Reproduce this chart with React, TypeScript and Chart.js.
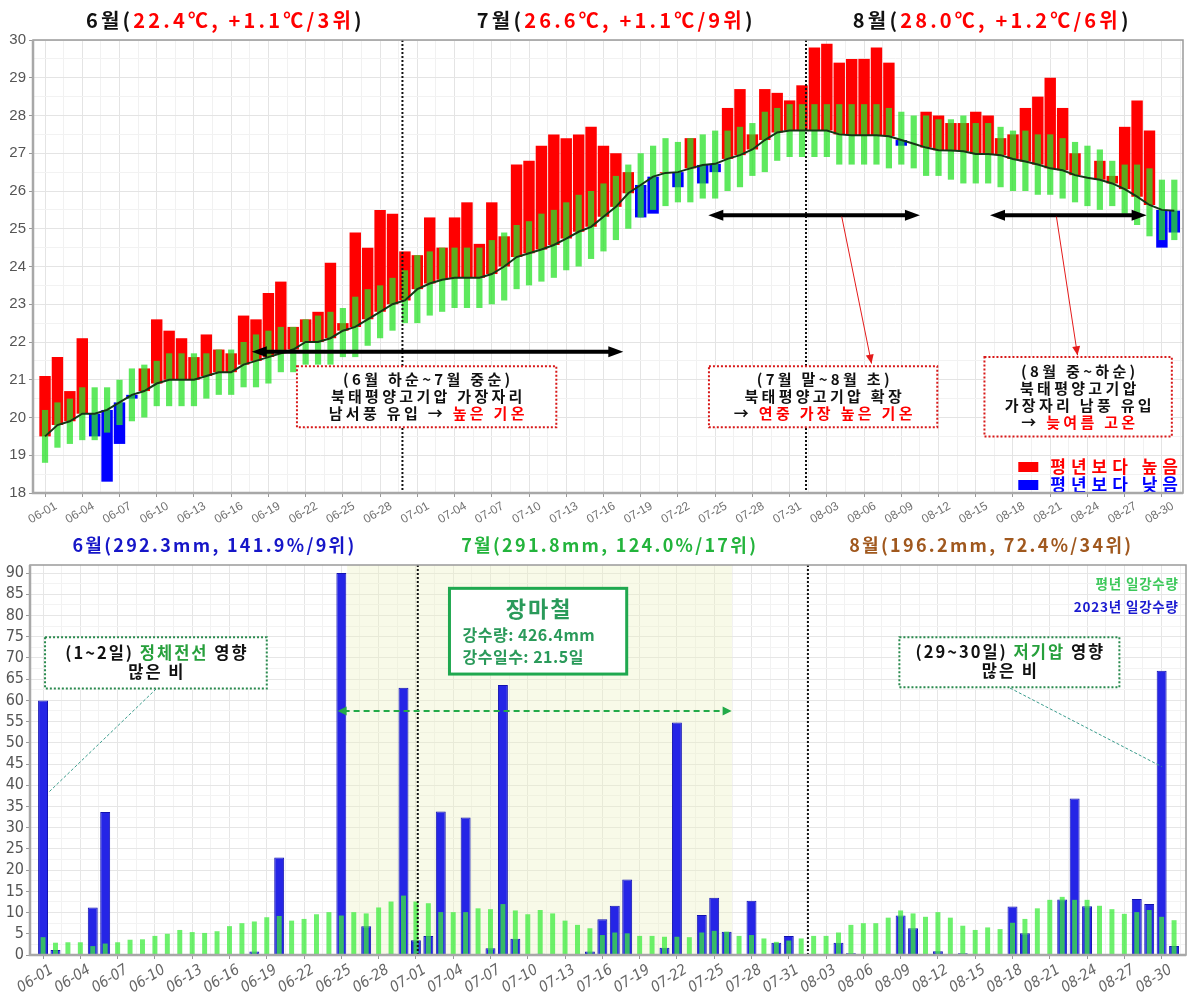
import React, { useEffect, useRef } from 'react';
import { Chart, registerables } from 'chart.js';
Chart.register(...registerables);

const KR = '"Noto Sans CJK KR", "Noto Sans", sans-serif';
const NARROW = '"Liberation Sans Narrow", "DejaVu Sans Condensed", "Liberation Sans", sans-serif';
const SANS = '"Liberation Sans", Arial, sans-serif';

// ---------------- categories ----------------
const dates = [
  '06-01','06-02','06-03','06-04','06-05','06-06','06-07','06-08','06-09','06-10',
  '06-11','06-12','06-13','06-14','06-15','06-16','06-17','06-18','06-19','06-20',
  '06-21','06-22','06-23','06-24','06-25','06-26','06-27','06-28','06-29','06-30',
  '07-01','07-02','07-03','07-04','07-05','07-06','07-07','07-08','07-09','07-10',
  '07-11','07-12','07-13','07-14','07-15','07-16','07-17','07-18','07-19','07-20',
  '07-21','07-22','07-23','07-24','07-25','07-26','07-27','07-28','07-29','07-30','07-31',
  '08-01','08-02','08-03','08-04','08-05','08-06','08-07','08-08','08-09','08-10',
  '08-11','08-12','08-13','08-14','08-15','08-16','08-17','08-18','08-19','08-20',
  '08-21','08-22','08-23','08-24','08-25','08-26','08-27','08-28','08-29','08-30','08-31',
];
const labelEvery = 3;

// ---------------- temperature (°C) ----------------
const tempNormal = [
  19.5,19.8,19.9,20.1,20.1,20.2,20.4,20.6,20.7,20.9, 21.0,21.0,21.0,21.1,21.2,21.2,21.4,21.5,21.6,21.7,
  21.8,22.0,22.0,22.1,22.3,22.4,22.6,22.8,23.0,23.1,
  23.4,23.55,23.65,23.7,23.7,23.7,23.8,24.0,24.25,24.35, 24.45,24.57,24.74,24.92,25.05,25.32,25.58,25.94,26.16,26.38,
  26.48,26.5,26.6,26.69,26.72,26.85,26.95,27.1,27.35,27.55,27.6,
  27.6,27.6,27.6,27.5,27.48,27.48,27.48,27.45,27.35,27.25, 27.15,27.08,27.07,27.05,26.98,26.98,26.95,26.85,26.78,26.7,
  26.6,26.55,26.42,26.35,26.3,26.2,26.05,25.85,25.63,25.5,25.48,
];
const tempActual = [
  21.1,21.6,20.7,22.1,19.5,18.3,19.3,20.5,21.3,22.6, 22.3,22.1,21.6,22.2,21.8,21.7,22.7,22.6,23.3,23.6,
  22.4,22.6,22.8,24.1,22.5,24.9,24.5,25.5,25.4,24.4,
  24.3,25.3,24.5,25.3,25.7,24.6,25.7,24.8,26.7,26.8, 27.2,27.5,27.4,27.5,27.7,27.2,27.0,26.5,25.3,25.4,
  26.5,26.1,27.4,26.2,26.5,28.2,28.7,27.5,28.7,28.6,28.4,
  28.8,29.8,29.9,29.4,29.5,29.5,29.8,29.4,27.2,27.25, 28.1,28.0,27.8,27.8,28.1,28.0,27.4,27.5,28.2,28.5,
  29.0,28.2,27.0,26.35,26.8,26.4,27.7,28.4,27.6,24.5,24.9,
];
const tempNormLow = [
  18.8,19.2,19.3,19.4,19.4,19.6,19.8,19.9,20.0,20.3, 20.3,20.3,20.3,20.5,20.6,20.6,20.8,20.8,20.9,21.2,
  21.2,21.4,21.4,21.4,21.6,21.6,21.9,22.1,22.3,22.5,
  22.5,22.7,22.8,22.9,22.9,22.9,23.0,23.1,23.4,23.5, 23.6,23.7,23.9,24.0,24.2,24.4,24.7,25.0,25.3,25.5,
  25.6,25.7,25.7,25.8,25.8,26.0,26.1,26.4,26.5,26.8,26.9,
  26.9,26.9,26.9,26.7,26.7,26.7,26.7,26.6,26.7,26.6, 26.4,26.4,26.3,26.2,26.2,26.2,26.1,26.0,26.0,25.9,
  25.9,25.8,25.7,25.6,25.5,25.6,25.4,25.1,24.8,24.7,24.7,
];
const tempNormHigh = [
  20.2,20.4,20.5,20.8,20.8,20.8,21.0,21.3,21.4,21.5, 21.7,21.7,21.7,21.7,21.8,21.8,22.0,22.2,22.3,22.4,
  22.4,22.6,22.7,22.8,22.9,23.2,23.4,23.5,23.7,23.9,
  24.3,24.4,24.5,24.5,24.5,24.5,24.7,24.9,25.1,25.2, 25.4,25.5,25.7,25.9,26.0,26.2,26.4,26.7,27.0,27.2,
  27.4,27.3,27.4,27.5,27.6,27.6,27.7,27.8,28.1,28.2,28.3,
  28.3,28.3,28.3,28.3,28.3,28.3,28.3,28.2,28.1,28.0, 28.0,27.9,27.9,28.0,27.8,27.8,27.7,27.6,27.6,27.5,
  27.5,27.4,27.3,27.2,27.1,26.8,26.7,26.7,26.6,26.3,26.3,
];

// ---------------- precipitation (mm) ----------------
const rainNormal = [
  4.2,2.9,3.0,3.0,2.1,2.7,3.0,3.6,3.7,4.5, 5.0,5.9,5.4,5.2,5.6,6.8,7.5,7.9,8.9,9.2,
  8.1,8.5,9.6,10.1,9.3,10.1,9.8,11.2,12.6,14.0,
  12.6,12.2,10.1,10.1,10.1,11.0,10.8,12.0,10.5,9.6, 10.6,9.8,8.1,7.1,6.3,4.7,5.3,5.1,4.5,4.5,
  4.3,4.3,4.2,5.3,5.7,5.5,4.5,4.7,3.9,3.1,3.4,
  3.9,4.5,4.5,5.3,7.1,7.5,7.5,8.8,10.5,9.8, 9.0,10.1,8.8,6.9,5.9,6.5,6.1,7.6,8.5,11.0,
  13.0,13.7,13.0,13.0,11.6,10.8,9.7,10.1,10.6,9.0,8.2,
];
const rain2023 = [
  60.0,1.2,0,0,11.2,33.7,0,0,0,0, 0,0,0,0,0,0,0,0.8,0,23.0,
  0,0,0,0,90.0,0,6.8,0,0.3,63.0,
  3.5,4.5,33.8,0,32.4,0,1.6,63.6,3.8,0, 0.3,0,0,0,0.8,8.4,11.6,17.8,0,0,
  1.7,54.8,0,9.4,13.5,5.5,0,12.8,0,2.9,4.5,
  0,0,0,2.9,0.4,0,0,0,9.3,6.3, 0,0.9,0,0.4,0,0.2,0,11.4,5.1,0,
  0,13.1,36.9,11.5,0,0,0,13.2,12.0,67.0,2.1,
];

// ---------------- titles / annotations ----------------
type Seg = { t: string; c: string };
const RED = '#ff0000';
const BLACK = '#111111';

const topTitles: { at: number; segs: Seg[] }[] = [
  { at: 14.4, segs: [{ t: '6월(', c: BLACK }, { t: '22.4℃, +1.1℃/3위', c: RED }, { t: ')', c: BLACK }] },
  { at: 45.9, segs: [{ t: '7월(', c: BLACK }, { t: '26.6℃, +1.1℃/9위', c: RED }, { t: ')', c: BLACK }] },
  { at: 76.2, segs: [{ t: '8월(', c: BLACK }, { t: '28.0℃, +1.2℃/6위', c: RED }, { t: ')', c: BLACK }] },
];
const rainTitles: { at: number; segs: Seg[] }[] = [
  { at: 13.7, segs: [{ t: '6월(292.3mm, 141.9%/9위)', c: '#1616c8' }] },
  { at: 45.5, segs: [{ t: '7월(291.8mm, 124.0%/17위)', c: '#23b43c' }] },
  { at: 76.2, segs: [{ t: '8월(196.2mm, 72.4%/34위)', c: '#a0581e' }] },
];

const topMonthBreaks = [28.8, 61.32];
const topArrows = [
  { x1: 16.66, x2: 46.6, y: 21.74 },
  { x1: 53.45, x2: 70.5, y: 25.36 },
  { x1: 76.15, x2: 88.77, y: 25.36 },
];
const topPointers = [
  { x1: 64.2, y1: 25.32, x2: 66.6, y2: 21.43 },
  { x1: 81.5, y1: 25.32, x2: 83.2, y2: 21.65 },
];
const topBoxes: { x1: number; x2: number; y1: number; y2: number; lines: Seg[][] }[] = [
  {
    x1: 20.3, x2: 41.2, y1: 21.36, y2: 19.74,
    lines: [
      [{ t: '(6월 하순~7월 중순)', c: BLACK }],
      [{ t: '북태평양고기압 가장자리', c: BLACK }],
      [{ t: '남서풍 유입 → ', c: BLACK }, { t: '높은 기온', c: RED }],
    ],
  },
  {
    x1: 53.5, x2: 71.9, y1: 21.36, y2: 19.74,
    lines: [
      [{ t: '(7월 말~8월 초)', c: BLACK }],
      [{ t: '북태평양고기압 확장', c: BLACK }],
      [{ t: '→ ', c: BLACK }, { t: '연중 가장 높은 기온', c: RED }],
    ],
  },
  {
    x1: 75.7, x2: 90.8, y1: 21.6, y2: 19.5,
    lines: [
      [{ t: '(8월 중~하순)', c: BLACK }],
      [{ t: '북태평양고기압', c: BLACK }],
      [{ t: '가장자리 남풍 유입', c: BLACK }],
      [{ t: '→ ', c: BLACK }, { t: '늦여름 고온', c: RED }],
    ],
  },
];
const topLegend = [
  { label: '평년보다 높음', color: '#ff0000' },
  { label: '평년보다 낮음', color: '#0000ff' },
];

const GREEN_TXT = '#27a03c';
const rainMonthBreaks = [30.15, 61.54];
const rainMonsoon = { x1: 24.46, x2: 55.43, arrowY: 57.5, arrowX1: 23.7, arrowX2: 55.4 };
const rainBoxes: { x1: number; x2: number; y1: number; y2: number; lines: Seg[][] }[] = [
  {
    x1: 0.16, x2: 18.0, y1: 74.9, y2: 62.8,
    lines: [
      [{ t: '(1~2일) ', c: BLACK }, { t: '정체전선', c: GREEN_TXT }, { t: ' 영향', c: BLACK }],
      [{ t: '많은 비', c: BLACK }],
    ],
  },
  {
    x1: 68.9, x2: 86.6, y1: 74.9, y2: 63.1,
    lines: [
      [{ t: '(29~30일) ', c: BLACK }, { t: '저기압', c: GREEN_TXT }, { t: ' 영향', c: BLACK }],
      [{ t: '많은 비', c: BLACK }],
    ],
  },
];
const rainPointers = [
  { x1: 9.1, y1: 62.7, x2: 0.4, y2: 38.2 },
  { x1: 77.8, y1: 62.9, x2: 90.0, y2: 44.4 },
];
const monsoonBox = {
  x1: 32.7, x2: 46.96, y1: 86.4, y2: 66.2,
  title: '장마철',
  lines: ['강수량: 426.4mm', '강수일수: 21.5일'],
};
const rainLegend = [
  { label: '평년 일강수량', color: '#3cc85a' },
  { label: '2023년 일강수량', color: '#1a1ad0' },
];

// ---------------- drawing helpers ----------------
function richText(
  ctx: CanvasRenderingContext2D, segs: Seg[], x: number, y: number,
  font: string, spacing: number, align: 'left' | 'center' | 'right' = 'center'
) {
  ctx.save();
  ctx.font = font;
  (ctx as any).letterSpacing = `${spacing}px`;
  ctx.textBaseline = 'middle';
  ctx.textAlign = 'left';
  const ws = segs.map((s) => ctx.measureText(s.t).width);
  const total = ws.reduce((a, b) => a + b, 0) - spacing;
  let cx = align === 'center' ? x - total / 2 : align === 'right' ? x - total : x;
  segs.forEach((s, i) => {
    ctx.fillStyle = s.c;
    ctx.fillText(s.t, cx, y);
    cx += ws[i];
  });
  ctx.restore();
}

function textWidth(ctx: CanvasRenderingContext2D, t: string, font: string, spacing: number) {
  ctx.save();
  ctx.font = font;
  (ctx as any).letterSpacing = `${spacing}px`;
  const w = ctx.measureText(t).width - spacing;
  ctx.restore();
  return w;
}

function arrowHead(ctx: CanvasRenderingContext2D, fx: number, fy: number, tx: number, ty: number, len: number, half: number) {
  const a = Math.atan2(ty - fy, tx - fx);
  const bx = tx - len * Math.cos(a);
  const by = ty - len * Math.sin(a);
  ctx.beginPath();
  ctx.moveTo(tx, ty);
  ctx.lineTo(bx + half * Math.sin(a), by - half * Math.cos(a));
  ctx.lineTo(bx - half * Math.sin(a), by + half * Math.cos(a));
  ctx.closePath();
  ctx.fill();
}

function drawFrame(ctx: CanvasRenderingContext2D, ca: any) {
  ctx.save();
  ctx.strokeStyle = '#9a9a9a';
  ctx.lineWidth = 1.5;
  ctx.strokeRect(ca.left, ca.top, ca.right - ca.left, ca.bottom - ca.top);
  ctx.lineWidth = 2.5;
  ctx.strokeStyle = '#a8a8a8';
  ctx.beginPath();
  ctx.moveTo(ca.left, ca.top);
  ctx.lineTo(ca.left, ca.bottom);
  ctx.lineTo(ca.right, ca.bottom);
  ctx.stroke();
  ctx.restore();
}

// ---------------- plugins ----------------
const topPlugin = {
  id: 'topDecor',
  afterDatasetsDraw(chart: any) {
    const { ctx, chartArea: ca, scales } = chart;
    const X = (v: number) => scales.x.getPixelForValue(v);
    const Y = (v: number) => scales.y.getPixelForValue(v);
    ctx.save();
    ctx.strokeStyle = '#111';
    ctx.lineWidth = 2;
    ctx.setLineDash([2, 2]);
    topMonthBreaks.forEach((b) => {
      ctx.beginPath();
      ctx.moveTo(X(b), ca.top);
      ctx.lineTo(X(b), ca.bottom);
      ctx.stroke();
    });
    ctx.setLineDash([]);
    ctx.strokeStyle = '#000';
    ctx.fillStyle = '#000';
    ctx.lineWidth = 4;
    topArrows.forEach((a) => {
      const x1 = X(a.x1), x2 = X(a.x2), y = Y(a.y);
      ctx.beginPath();
      ctx.moveTo(x1 + 8, y);
      ctx.lineTo(x2 - 8, y);
      ctx.stroke();
      arrowHead(ctx, x2, y, x1, y, 15, 5.5);
      arrowHead(ctx, x1, y, x2, y, 15, 5.5);
    });
    ctx.strokeStyle = '#e41a1a';
    ctx.fillStyle = '#e41a1a';
    ctx.lineWidth = 1;
    topPointers.forEach((p) => {
      const x1 = X(p.x1), y1 = Y(p.y1), x2 = X(p.x2), y2 = Y(p.y2);
      ctx.beginPath();
      ctx.moveTo(x1, y1);
      ctx.lineTo(x2, y2);
      ctx.stroke();
      arrowHead(ctx, x1, y1, x2, y2, 9, 4);
    });
    topBoxes.forEach((b) => {
      const l = X(b.x1), r = X(b.x2), t = Y(b.y1), bt = Y(b.y2);
      ctx.fillStyle = '#ffffff';
      ctx.fillRect(l, t, r - l, bt - t);
      ctx.strokeStyle = '#d81818';
      ctx.lineWidth = 2;
      ctx.setLineDash([2, 2]);
      ctx.strokeRect(l, t, r - l, bt - t);
      ctx.setLineDash([]);
      const cx = (l + r) / 2, cy = (t + bt) / 2;
      const lh = 17;
      b.lines.forEach((ln, i) => {
        const y = cy + (i - (b.lines.length - 1) / 2) * lh;
        richText(ctx, ln, cx, y, `bold 15px ${KR}`, 3.3);
      });
    });
    const lf = `bold 17px ${KR}`;
    topLegend.forEach((it, i) => {
      const y = ca.bottom - 26 + i * 18;
      const tx = ca.right - 5;
      const w = textWidth(ctx, it.label, lf, 5);
      ctx.fillStyle = it.color;
      ctx.fillRect(tx - w - 32, y - 5, 20, 10);
      richText(ctx, [{ t: it.label, c: it.color }], tx, y, lf, 5, 'right');
    });
    ctx.restore();
  },
  afterDraw(chart: any) {
    const { ctx, chartArea: ca, scales } = chart;
    drawFrame(ctx, ca);
    topTitles.forEach((tt) => {
      richText(ctx, tt.segs, scales.x.getPixelForValue(tt.at), 20, `bold 20px ${KR}`, 3.2);
    });
  },
};

const rainPlugin = {
  id: 'rainDecor',
  beforeDatasetsDraw(chart: any) {
    const { ctx, chartArea: ca, scales } = chart;
    const X = (v: number) => scales.x.getPixelForValue(v);
    ctx.save();
    ctx.fillStyle = 'rgba(236, 240, 190, 0.36)';
    ctx.fillRect(X(rainMonsoon.x1), ca.top, X(rainMonsoon.x2) - X(rainMonsoon.x1), ca.bottom - ca.top);
    ctx.restore();
  },
  afterDatasetsDraw(chart: any) {
    const { ctx, chartArea: ca, scales } = chart;
    const X = (v: number) => scales.x.getPixelForValue(v);
    const Y = (v: number) => scales.y.getPixelForValue(v);
    ctx.save();
    ctx.strokeStyle = '#111';
    ctx.lineWidth = 2;
    ctx.setLineDash([2, 2]);
    rainMonthBreaks.forEach((b) => {
      ctx.beginPath();
      ctx.moveTo(X(b), ca.top);
      ctx.lineTo(X(b), ca.bottom);
      ctx.stroke();
    });
    const ax1 = X(rainMonsoon.arrowX1), ax2 = X(rainMonsoon.arrowX2), ay = Y(rainMonsoon.arrowY);
    ctx.strokeStyle = '#22aa48';
    ctx.fillStyle = '#22aa48';
    ctx.lineWidth = 2;
    ctx.setLineDash([6, 4]);
    ctx.beginPath();
    ctx.moveTo(ax1 + 6, ay);
    ctx.lineTo(ax2 - 6, ay);
    ctx.stroke();
    ctx.setLineDash([]);
    arrowHead(ctx, ax2, ay, ax1, ay, 9, 4.5);
    arrowHead(ctx, ax1, ay, ax2, ay, 9, 4.5);
    ctx.strokeStyle = '#3a9c8c';
    ctx.lineWidth = 1;
    ctx.setLineDash([3, 2]);
    rainPointers.forEach((p) => {
      ctx.beginPath();
      ctx.moveTo(X(p.x1), Y(p.y1));
      ctx.lineTo(X(p.x2), Y(p.y2));
      ctx.stroke();
    });
    ctx.setLineDash([]);
    rainBoxes.forEach((b) => {
      const l = X(b.x1), r = X(b.x2), t = Y(b.y1), bt = Y(b.y2);
      ctx.fillStyle = '#ffffff';
      ctx.fillRect(l, t, r - l, bt - t);
      ctx.strokeStyle = '#2a8a4e';
      ctx.lineWidth = 2;
      ctx.setLineDash([2, 2]);
      ctx.strokeRect(l, t, r - l, bt - t);
      ctx.setLineDash([]);
      const cx = (l + r) / 2, cy = (t + bt) / 2;
      b.lines.forEach((ln, i) => {
        const y = cy + (i - (b.lines.length - 1) / 2) * 19 - 1;
        richText(ctx, ln, cx, y, `bold 16.5px ${KR}`, 2);
      });
    });
    {
      const b = monsoonBox;
      const l = X(b.x1), r = X(b.x2), t = Y(b.y1), bt = Y(b.y2);
      ctx.fillStyle = '#ffffff';
      ctx.fillRect(l, t, r - l, bt - t);
      ctx.strokeStyle = '#1fa84f';
      ctx.lineWidth = 3;
      ctx.strokeRect(l, t, r - l, bt - t);
      richText(ctx, [{ t: b.title, c: '#2a9a5a' }], (l + r) / 2, t + 20, `bold 22px ${KR}`, 2);
      b.lines.forEach((ln, i) => {
        richText(ctx, [{ t: ln, c: '#2a9a5a' }], l + 13, t + 47 + i * 22, `bold 16px ${KR}`, 0.5, 'left');
      });
    }
    rainLegend.forEach((it, i) => {
      richText(ctx, [{ t: it.label, c: it.color }], ca.right - 8, ca.top + 19 + i * 23, `bold 13.5px ${KR}`, 0.8, 'right');
    });
    ctx.restore();
  },
  afterDraw(chart: any) {
    const { ctx, chartArea: ca, scales } = chart;
    drawFrame(ctx, ca);
    rainTitles.forEach((tt) => {
      richText(ctx, tt.segs, scales.x.getPixelForValue(tt.at), 15, `bold 18px ${KR}`, 2.3);
    });
  },
};

// ---------------- derived datasets ----------------
const idx = dates.map((_, i) => i);
const xMajor = idx.filter((i) => i % labelEvery === 0 && i <= 90);
const xTickVals = xMajor.flatMap((v) => [v, v + labelEvery / 2]);
const isMajorX = (v: number) => v % labelEvery === 0;

function fixX(height: number) {
  return (s: any) => {
    s.height = height;
    s.paddingLeft = 0;
    s.paddingRight = 0;
  };
}

function makeTopChart(canvas: HTMLCanvasElement) {
  const warm = idx.filter((i) => tempActual[i] >= tempNormal[i]).map((i) => ({ x: i, y: [tempNormal[i], tempActual[i]] }));
  const cool = idx.filter((i) => tempActual[i] < tempNormal[i]).map((i) => ({ x: i, y: [tempActual[i], tempNormal[i]] }));
  const range = idx.map((i) => ({ x: i, y: [tempNormLow[i], tempNormHigh[i]] }));
  const mean = idx.map((i) => ({ x: i, y: tempNormal[i] }));
  const yTicks: number[] = [];
  for (let v = 18; v <= 30; v += 0.5) yTicks.push(v);
  return new Chart(canvas, {
    type: 'bar',
    data: {
      datasets: [
        { type: 'line', data: mean, borderColor: '#163616', borderWidth: 2, pointRadius: 0, order: 0 } as any,
        { data: range, backgroundColor: 'rgba(40, 226, 40, 0.75)', grouped: false, barPercentage: 0.5, categoryPercentage: 1, order: 1 } as any,
        { data: warm, backgroundColor: '#ff0000', grouped: false, barPercentage: 0.92, categoryPercentage: 1, order: 2 } as any,
        { data: cool, backgroundColor: '#0000ff', grouped: false, barPercentage: 0.92, categoryPercentage: 1, order: 2 } as any,
      ],
    },
    options: {
      responsive: false,
      animation: false,
      events: [],
      layout: { autoPadding: false, padding: { left: 0, right: 5, top: 40, bottom: 0 } },
      plugins: { legend: { display: false }, tooltip: { enabled: false } },
      scales: {
        x: {
          type: 'linear',
          offset: false,
          min: -0.97,
          max: 91.7,
          afterBuildTicks: (s: any) => { s.ticks = xTickVals.map((v) => ({ value: v })); },
          afterFit: fixX(37),
          border: { display: false },
          grid: {
            offset: false,
            color: (c: any) => (c.tick && isMajorX(c.tick.value) ? '#e4e4e4' : '#f1f1f1'),
            tickColor: (c: any) => (c.tick && isMajorX(c.tick.value) ? '#999' : 'rgba(0,0,0,0)'),
            tickLength: 4,
          },
          ticks: {
            autoSkip: false,
            minRotation: 30,
            maxRotation: 30,
            padding: 2,
            labelOffset: 11,
            color: '#707070',
            font: { family: SANS, size: 12 },
            callback: (v: any) => (isMajorX(v) ? dates[v] : ''),
          },
        },
        y: {
          min: 18,
          max: 30,
          afterBuildTicks: (s: any) => { s.ticks = yTicks.map((v) => ({ value: v })); },
          afterFit: (s: any) => { s.width = 33; s.paddingTop = 0; s.paddingBottom = 0; },
          border: { display: false },
          grid: {
            color: (c: any) => (c.tick && Number.isInteger(c.tick.value) ? '#e4e4e4' : '#f2f2f2'),
            tickColor: (c: any) => (c.tick && Number.isInteger(c.tick.value) ? '#999' : 'rgba(0,0,0,0)'),
            tickLength: 4,
          },
          ticks: {
            autoSkip: false,
            padding: 3,
            color: '#555',
            font: { family: SANS, size: 15 },
            callback: (v: any) => (Number.isInteger(v) ? String(v) : ''),
          },
        },
      },
    },
    plugins: [topPlugin],
  } as any);
}

function makeRainChart(canvas: HTMLCanvasElement) {
  const normal = idx.map((i) => ({ x: i, y: rainNormal[i] }));
  const obs = idx.filter((i) => rain2023[i] > 0).map((i) => ({ x: i, y: rain2023[i] }));
  const yTicks: number[] = [];
  for (let v = 0; v <= 90; v += 2.5) yTicks.push(v);
  return new Chart(canvas, {
    type: 'bar',
    data: {
      datasets: [
        { data: normal, backgroundColor: 'rgba(60, 236, 60, 0.75)', grouped: false, barPercentage: 0.4, categoryPercentage: 1, order: 1 } as any,
        { data: obs, backgroundColor: '#2525e6', borderColor: '#1212b0', borderWidth: 1, grouped: false, barPercentage: 0.8, categoryPercentage: 1, order: 2 } as any,
      ],
    },
    options: {
      responsive: false,
      animation: false,
      events: [],
      layout: { autoPadding: false, padding: { left: 0, right: 2, top: 35, bottom: 0 } },
      plugins: { legend: { display: false }, tooltip: { enabled: false } },
      scales: {
        x: {
          type: 'linear',
          offset: false,
          min: -1.05,
          max: 91.96,
          afterBuildTicks: (s: any) => { s.ticks = xTickVals.map((v) => ({ value: v })); },
          afterFit: fixX(41),
          border: { display: false },
          grid: {
            offset: false,
            color: (c: any) => (c.tick && isMajorX(c.tick.value) ? '#e6e6e6' : '#f2f2f2'),
            tickColor: (c: any) => (c.tick && isMajorX(c.tick.value) ? '#999' : 'rgba(0,0,0,0)'),
            tickLength: 4,
          },
          ticks: {
            autoSkip: false,
            minRotation: 32,
            maxRotation: 32,
            padding: 2,
            labelOffset: 9,
            color: '#666',
            font: { family: NARROW, size: 15, style: 'italic' },
            callback: (v: any) => (isMajorX(v) ? dates[v] : ''),
          },
        },
        y: {
          min: 0,
          max: 91.9,
          afterBuildTicks: (s: any) => { s.ticks = yTicks.map((v) => ({ value: v })); },
          afterFit: (s: any) => { s.width = 30; s.paddingTop = 0; s.paddingBottom = 0; },
          border: { display: false },
          grid: {
            color: (c: any) => (c.tick && c.tick.value % 5 === 0 ? '#e6e6e6' : '#f3f3f3'),
            tickColor: (c: any) => (c.tick && c.tick.value % 5 === 0 ? '#999' : 'rgba(0,0,0,0)'),
            tickLength: 4,
          },
          ticks: {
            autoSkip: false,
            padding: 2,
            color: '#555',
            font: { family: NARROW, size: 16 },
            callback: (v: any) => (v % 5 === 0 ? String(v) : ''),
          },
        },
      },
    },
    plugins: [rainPlugin],
  } as any);
}

export default function App() {
  const topRef = useRef<HTMLCanvasElement>(null);
  const botRef = useRef<HTMLCanvasElement>(null);
  useEffect(() => {
    const a = makeTopChart(topRef.current!);
    const b = makeRainChart(botRef.current!);
    return () => { a.destroy(); b.destroy(); };
  }, []);
  return (
    <div style={{ position: 'absolute', left: 0, top: 0, width: 1188, height: 996, background: '#fff' }}>
      <canvas ref={topRef} width={1188} height={530} style={{ position: 'absolute', left: 0, top: 0, width: 1188, height: 530 }} />
      <canvas ref={botRef} width={1188} height={466} style={{ position: 'absolute', left: 0, top: 530, width: 1188, height: 466 }} />
    </div>
  );
}
